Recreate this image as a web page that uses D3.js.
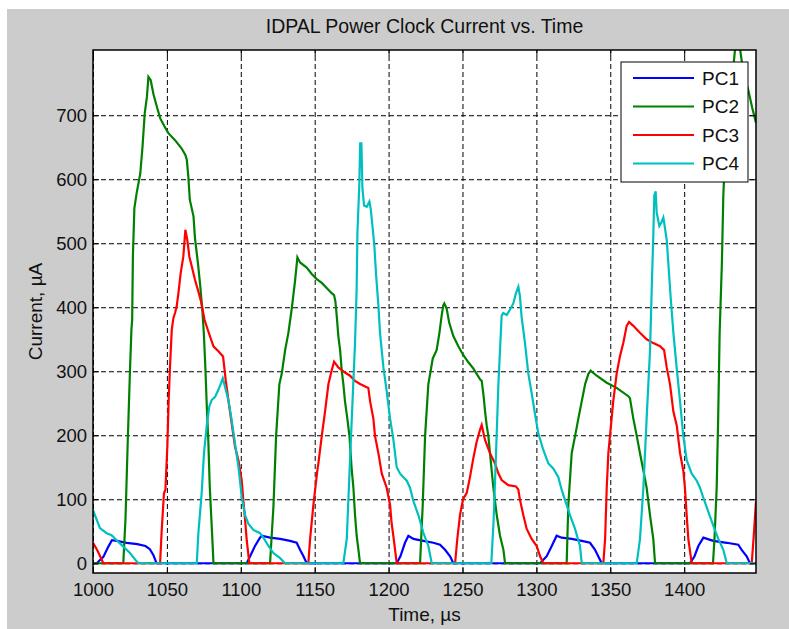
<!DOCTYPE html>
<html lang="en">
<head>
<meta charset="utf-8">
<title>IDPAL Power Clock Current vs. Time</title>
<script src="https://d3js.org/d3.v7.min.js"></script>
<style>
body { margin: 0; background: #fff; }
text { font-family: "Liberation Sans", Arial, sans-serif; fill: #111; }
.grid line { stroke: #000; stroke-width: 1; stroke-dasharray: 5,3; }
.grid path { display: none; }
.axis path { display: none; }
.axis line { stroke: #000; }
</style>
</head>
<body>
<script>
var seriesNames = ["PC1", "PC2", "PC3", "PC4"];
var xTicks = [1000, 1050, 1100, 1150, 1200, 1250, 1300, 1350, 1400];
var yTicks = [0, 100, 200, 300, 400, 500, 600, 700];

// [time us, current uA]
var pc1 = [[1000,0],[1002.5,0],[1007,10],[1010.4,26],[1012.8,36],[1016,35],[1022.8,32],[1030,30],[1035.5,27],[1038.5,22],[1040.8,13],[1043,0],
  [1104,0],[1106.3,11],[1109.6,27],[1113,40],[1114.2,43],[1119.8,40],[1126.6,38],[1133.3,35],[1137.8,32],[1140.1,21],[1142.4,11],[1144.6,0],
  [1205.5,0],[1208,11],[1211.1,32],[1213.4,43],[1216.8,38],[1223.5,35],[1230.3,32],[1234.8,29],[1238.2,21],[1241.6,11],[1243.8,0],
  [1302.5,0],[1307,11],[1310.4,27],[1313.7,43],[1317.1,40],[1323.9,38],[1330.7,35],[1336.3,32],[1339.7,21],[1343.1,5],[1344.2,0],
  [1404,0],[1407,11],[1409.6,27],[1413,40],[1419.7,35],[1428.8,32],[1436.6,29],[1438.9,21],[1442.3,11],[1444.5,0],[1448.6,0]];

var pc2 = [[1000,0],[1020.5,0],[1022,70],[1023.5,190],[1025,300],[1026,365],[1026.5,380],[1027,480],[1028,555],[1029.5,578],[1032,609],[1033.5,651],[1035,703],[1036.5,729],[1037.5,760],[1039,755],[1041,732],[1043.5,711],[1045.5,695],[1048.5,682],[1051,672],[1055.5,661],[1060,648],[1062.5,638],[1063.5,630],[1064.5,604],[1065.5,568],[1068,542],[1069,508],[1071,469],[1072.5,435],[1074,395],[1075,359],[1076,307],[1077,245],[1078,193],[1079,120],[1080,73],[1081,26],[1081.5,0],
  [1119.8,0],[1122.1,89],[1123.9,199],[1126.1,280],[1127.7,296],[1130,333],[1132.2,360],[1134.5,398],[1136.7,441],[1138.3,478],[1140.1,470],[1144.6,462],[1148,452],[1151.4,444],[1154.8,438],[1158.1,430],[1161.5,422],[1163.1,419],[1164,409],[1164.9,387],[1166,355],[1167.2,333],[1168.3,301],[1169.4,280],[1170.5,253],[1172.1,226],[1173.5,199],[1175.1,145],[1176.2,118],[1177.3,75],[1178.4,43],[1179.6,21],[1180.7,0],
  [1221.3,0],[1223.1,91],[1224.7,199],[1226.9,280],[1229.9,320],[1232.5,333],[1234.4,360],[1235.9,387],[1237,403],[1237.7,406],[1239.3,398],[1241,376],[1243.8,355],[1247.2,339],[1250.6,325],[1254,314],[1257.4,304],[1262,287],[1263,285],[1264.2,263],[1265.3,237],[1266.4,215],[1267.5,199],[1268.6,172],[1270.9,118],[1273.2,75],[1275.4,43],[1277.7,21],[1278.8,0],
  [1320.5,0],[1321.6,91],[1323.9,172],[1326.2,199],[1328.4,226],[1330.7,253],[1333,280],[1335.2,296],[1336.7,301],[1340.8,293],[1347.6,282],[1354.3,274],[1362.2,261],[1363.3,258],[1365.6,226],[1367.9,199],[1370.1,172],[1372.4,145],[1374.6,118],[1376.9,75],[1379.1,38],[1380.3,0],
  [1419.5,0],[1420.5,38],[1422,118],[1423,226],[1424,360],[1425.5,468],[1426.5,575],[1427.5,629],[1431,720],[1434.5,805],[1435.5,840],[1437.5,840],[1438,800],[1440,768],[1443.4,739],[1446,712],[1448.6,688]];

var pc3 = [[1000,32],[1003,20],[1007,0],
  [1045.4,0],[1046.5,52],[1048,109],[1049,115],[1050.3,182],[1051.2,255],[1052.1,307],[1053.3,365],[1054.4,383],[1055.5,391],[1056.6,401],[1057.8,422],[1059.3,453],[1061.1,479],[1062.5,521],[1063.8,505],[1065.2,479],[1066.8,464],[1069,443],[1071,427],[1073,410],[1075.5,380],[1078.5,359],[1081.5,339],[1085,331],[1088,323],[1088.8,307],[1089.8,286],[1091.6,255],[1093.8,219],[1096.1,182],[1098.4,161],[1100.6,130],[1101.7,99],[1102.9,68],[1104,36],[1105.8,0],
  [1145.7,0],[1146.9,38],[1149.1,91],[1151.8,145],[1152.5,156],[1154.8,199],[1157,237],[1159.3,280],[1161.5,301],[1163.1,315],[1166,306],[1170.5,298],[1173.9,293],[1177.3,285],[1180.7,280],[1186.3,274],[1187.5,253],[1189.7,226],[1190.8,199],[1193.1,172],[1195.4,140],[1198.7,118],[1201,91],[1202,64],[1203.2,43],[1204.4,21],[1205.5,0],
  [1245,0],[1246.5,38],[1248.3,75],[1250.4,100],[1252.9,110],[1255.1,135],[1257.4,165],[1259.6,190],[1261.8,208],[1263,216],[1265.2,193],[1268.6,172],[1272,156],[1274.2,141],[1276.5,130],[1281,122],[1286.2,120],[1287.8,115],[1288.9,99],[1291.2,75],[1293.4,54],[1296.8,38],[1300.2,27],[1302.5,11],[1304.7,0],
  [1345.3,0],[1346.5,38],[1347.6,118],[1348.7,172],[1349.8,199],[1352,253],[1354.3,296],[1356.5,323],[1358.8,344],[1361.1,371],[1362.7,377],[1365.6,371],[1370.1,360],[1374.6,350],[1379.1,344],[1383.7,339],[1386.4,333],[1388.2,306],[1390.4,280],[1392.7,237],[1395,215],[1397.2,172],[1399.4,145],[1400.5,118],[1401.7,75],[1402.8,38],[1405.1,0],
  [1445.7,0],[1447,40],[1448.6,97]];

var pc4 = [[1000,83],[1002.5,68],[1004.7,55],[1009.2,47],[1012.6,44],[1016,36],[1020.5,26],[1025,16],[1029.5,3],[1030.7,0],
  [1070.2,0],[1071.3,47],[1073.5,109],[1075.1,172],[1076.9,214],[1078.7,245],[1080.3,255],[1082.6,260],[1084.8,271],[1086.6,281],[1087.8,289],[1089.3,276],[1091.6,255],[1093.8,224],[1096.1,187],[1098.4,151],[1100.6,104],[1102.9,75],[1105.1,62],[1108.5,52],[1113,47],[1115.3,40],[1118.7,27],[1122.1,16],[1126.6,8],[1129.9,0],
  [1169.4,0],[1171.7,38],[1173.9,161],[1176.1,280],[1177.3,344],[1178.4,430],[1178.9,516],[1180.2,592],[1180.8,656],[1181.6,656],[1182.3,586],[1183.4,559],[1185.2,557],[1187,565],[1187.9,554],[1189.3,522],[1190.4,495],[1191.5,452],[1193.1,403],[1194.2,360],[1196.5,306],[1198.7,269],[1201,226],[1203.2,194],[1205.5,150],[1207.8,140],[1212.3,129],[1214.5,118],[1216.8,97],[1220.2,75],[1223.5,48],[1226.9,27],[1229.2,0],
  [1269.5,0],[1271,64],[1272.7,172],[1274.3,280],[1276.5,387],[1277.6,391],[1279.9,388],[1282.1,396],[1284.4,406],[1286.2,422],[1287.8,432],[1288.9,417],[1290,385],[1292.3,344],[1294.5,297],[1296.8,266],[1299,234],[1301.3,203],[1304.7,177],[1308.1,156],[1311.4,148],[1314.8,135],[1317.1,115],[1319.3,99],[1322.8,75],[1326.1,54],[1329.5,27],[1330.7,0],
  [1367.9,0],[1370.1,38],[1372.4,118],[1374.6,226],[1376.9,333],[1378,425],[1379.1,511],[1379.8,575],[1380.7,581],[1381.4,548],[1383.2,527],[1384.5,532],[1385.9,540],[1386.8,527],[1388.2,505],[1389.3,468],[1390.9,414],[1392.7,360],[1394.9,306],[1397.2,253],[1399.4,199],[1401.7,161],[1405.1,140],[1408.5,129],[1410.7,118],[1413,102],[1416.4,80],[1419.7,59],[1423.1,38],[1426.5,21],[1428.8,0],[1448.6,0]];

var colors = ["#0000ff", "#008000", "#ff0000", "#00bfbf"];

var margin = {top: 50, right: 33, bottom: 56, left: 93},
    width = 789 - margin.left - margin.right,
    height = 629 - margin.top - margin.bottom;

var x = d3.scaleLinear().domain([1000, 1448.6]).range([0, width]);
var y = d3.scaleLinear().domain([-15.2, 801.9]).range([height, 0]);

var svg = d3.select("body").append("svg")
    .attr("width", 789)
    .attr("height", 629);

// figure background
svg.append("rect")
    .attr("x", 7).attr("y", 9)
    .attr("width", 782).attr("height", 620)
    .attr("fill", "#cccccc");

var main = svg.append("g")
    .attr("transform", "translate(" + margin.left + "," + margin.top + ")");

main.append("rect")
    .attr("width", width).attr("height", height)
    .attr("fill", "#fff");

// dashed grid
main.append("g").attr("class", "grid")
    .attr("transform", "translate(0," + height + ")")
    .call(d3.axisBottom(x).tickValues(xTicks).tickSize(-height).tickFormat(""));
main.append("g").attr("class", "grid")
    .call(d3.axisLeft(y).tickValues(yTicks).tickSize(-width).tickFormat(""));

main.append("clipPath").attr("id", "clip")
    .append("rect").attr("width", width).attr("height", height);

var line = d3.line()
    .x(function (d) { return x(d[0]); })
    .y(function (d) { return y(d[1]); });

var series = [pc1, pc2, pc3, pc4];
main.append("g").attr("clip-path", "url(#clip)")
    .selectAll("path")
    .data(series)
    .enter().append("path")
    .attr("d", line)
    .attr("fill", "none")
    .attr("stroke", function (d, i) { return colors[i]; })
    .attr("stroke-width", 2.2);

// axes, ticks pointing inward
var fs = 18.5;
main.append("g").attr("class", "axis")
    .attr("transform", "translate(0," + height + ")")
    .call(d3.axisBottom(x).tickValues(xTicks).tickFormat(d3.format("d")).tickSizeInner(-6).tickSizeOuter(0).tickPadding(10))
    .attr("font-size", fs).attr("font-family", null);
main.append("g").attr("class", "axis")
    .call(d3.axisTop(x).tickValues(xTicks).tickSizeInner(-6).tickSizeOuter(0).tickFormat(""));
main.append("g").attr("class", "axis")
    .call(d3.axisLeft(y).tickValues(yTicks).tickFormat(d3.format("d")).tickSizeInner(-6).tickSizeOuter(0).tickPadding(6))
    .attr("font-size", fs).attr("font-family", null);
main.append("g").attr("class", "axis")
    .attr("transform", "translate(" + width + ",0)")
    .call(d3.axisRight(y).tickValues(yTicks).tickSizeInner(-6).tickSizeOuter(0).tickFormat(""));
main.selectAll(".axis text").attr("fill", "#111");

main.append("rect")
    .attr("width", width).attr("height", height)
    .attr("fill", "none")
    .attr("stroke", "#000")
    .attr("stroke-width", 1.5);

// titles
svg.append("text")
    .attr("x", margin.left + width / 2).attr("y", 33)
    .attr("text-anchor", "middle")
    .style("font-size", "19.5px")
    .text("IDPAL Power Clock Current vs. Time");
svg.append("text")
    .attr("x", margin.left + width / 2).attr("y", 621)
    .attr("text-anchor", "middle")
    .style("font-size", "19px")
    .text("Time, \u00b5s");
svg.append("text")
    .attr("transform", "translate(42," + (margin.top + height / 2) + ") rotate(-90)")
    .attr("text-anchor", "middle")
    .style("font-size", "19px")
    .text("Current, \u00b5A");

// legend
var legend = svg.append("g").attr("transform", "translate(621,62)");
legend.append("rect")
    .attr("width", 127).attr("height", 120)
    .attr("fill", "#fff").attr("stroke", "#000");
var items = legend.selectAll("g.item")
    .data(seriesNames)
    .enter().append("g")
    .attr("class", "item")
    .attr("transform", function (d, i) { return "translate(0," + (16 + i * 28.5) + ")"; });
items.append("line")
    .attr("x1", 12).attr("x2", 73)
    .attr("stroke", function (d, i) { return colors[i]; })
    .attr("stroke-width", 2.2);
items.append("text")
    .attr("x", 81).attr("dy", "0.35em")
    .style("font-size", "19px")
    .text(function (d) { return d; });
</script>
</body>
</html>
